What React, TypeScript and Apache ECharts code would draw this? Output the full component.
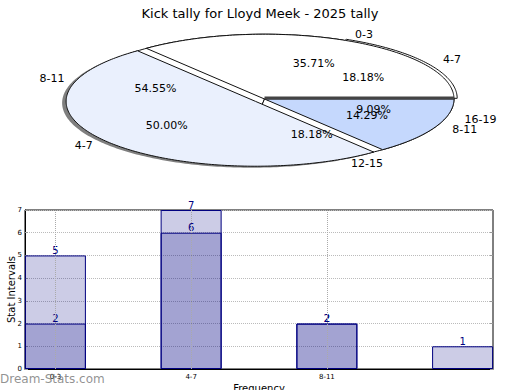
import React, { useEffect, useRef } from "react";
import * as echarts from "echarts";

const titleText = "Kick tally for Lloyd Meek - 2025 tally";

// Outer pie (drawn on top)
const pie1Labels = ["0-3", "4-7", "8-11"];
const pie1Values = [5, 7, 2];
const pie1Colors = ["#ffffff", "#eaf0fd", "#c5d8fd"];
const pie1Explode = [0, 0.06, 0];

// Second pie (underneath)
const pie2Labels = ["4-7", "8-11", "12-15", "16-19"];
const pie2Values = [2, 6, 2, 1];
const pie2Colors = ["#ffffff", "#ffffff", "#ffffff", "#ffffff"];
const pie2Explode = [0.02, 0, 0, 0];

// Bar chart
const barCategories = ["0-3", "4-7", "8-11", ""];
const barSeriesA = [5, 7, 2];
const barSeriesB = [2, 6, 2, 1];

const CX = 264.5;
const CY = 99;
const RX = 189.5;
const RY = 64.8;
const FONT = "DejaVu Sans";

function wedgePoints(cx: number, cy: number, a1: number, a2: number) {
  const pts: number[][] = [[cx, cy]];
  const n = Math.max(2, Math.ceil(((a2 - a1) * 180) / Math.PI));
  for (let i = 0; i <= n; i++) {
    const a = a1 + ((a2 - a1) * i) / n;
    pts.push([cx + RX * Math.cos(a), cy - RY * Math.sin(a)]);
  }
  return pts;
}

function pieRender(
  values: number[],
  labels: string[],
  colors: string[],
  explode: number[],
  mode: "shadow" | "pie" | "labels",
  thickZero: boolean
) {
  const total = values.reduce((s, v) => s + v, 0);
  return (params: any) => {
    const i = params.dataIndex;
    let before = 0;
    for (let k = 0; k < i; k++) before += values[k];
    const a1 = (before / total) * Math.PI * 2;
    const a2 = ((before + values[i]) / total) * Math.PI * 2;
    const mid = (a1 + a2) / 2;
    const dx = explode[i] * RX * Math.cos(mid);
    const dy = -explode[i] * RY * Math.sin(mid);
    const cx = CX + dx;
    const cy = CY + dy;
    if (mode === "shadow") {
      return {
        type: "polygon",
        shape: { points: wedgePoints(cx - 4, cy + 1.5, a1, a2) },
        style: { fill: "rgba(0,0,0,0.5)", stroke: "none" },
        silent: true,
      };
    }
    if (mode === "pie") {
      const children: any[] = [
        {
          type: "polygon",
          shape: { points: wedgePoints(cx, cy, a1, a2) },
          style: { fill: colors[i], stroke: "#111", lineWidth: 1, lineJoin: "round" },
        },
      ];
      if (thickZero && i === values.length - 1) {
        children.push({
          type: "line",
          shape: { x1: CX, y1: CY - 1, x2: CX + RX, y2: CY - 1 },
          style: { stroke: "#444", lineWidth: 3 },
        });
      }
      return { type: "group", children };
    }
    const c = Math.cos(mid);
    const s = Math.sin(mid);
    return {
      type: "group",
      children: [
        {
          type: "text",
          x: cx + 1.1 * RX * c,
          y: cy - 1.1 * RY * s,
          style: {
            text: labels[i],
            fill: "#000",
            fontSize: 11,
            fontFamily: FONT,
            align: c < 0 ? "right" : "left",
            verticalAlign: "middle",
          },
        },
        {
          type: "text",
          x: cx + 0.6 * RX * c,
          y: cy - 0.6 * RY * s,
          style: {
            text: ((values[i] / total) * 100).toFixed(2) + "%",
            fill: "#000",
            fontSize: 11,
            fontFamily: FONT,
            align: "center",
            verticalAlign: "middle",
          },
        },
      ],
    };
  };
}

export default function App() {
  const ref = useRef<HTMLDivElement>(null);
  useEffect(() => {
    if (!ref.current) return;
    const chart = echarts.init(ref.current, undefined, { renderer: "svg" });
    const barStyle = {
      color: "rgba(0,0,128,0.2)",
      borderColor: "#000080",
      borderWidth: 1,
    };
    const barLabel = {
      show: true,
      position: "top",
      distance: 0,
      color: "#000080",
      fontSize: 10,
      fontFamily: FONT,
    };
    const custom = (z: number, values: number[], render: any) => ({
      type: "custom",
      coordinateSystem: "none",
      z,
      data: values,
      renderItem: render,
      silent: true,
    });
    chart.setOption({
      animation: false,
      backgroundColor: "#fff",
      title: {
        text: titleText,
        left: "center",
        top: 2,
        textStyle: { fontSize: 13, fontWeight: "normal", color: "#000", fontFamily: FONT },
      },
      graphic: [
        {
          type: "text",
          left: 0,
          top: 373,
          style: {
            text: "Dream-Stats.com",
            fill: "rgba(110,110,110,0.75)",
            fontSize: 12,
            fontFamily: FONT,
          },
          z: 100,
        },
      ],
      grid: {
        left: 25,
        right: 27,
        top: 210,
        bottom: 21,
        containLabel: false,
        outerBoundsMode: "none",
        show: true,
        borderColor: "#000",
        borderWidth: 1,
      },
      xAxis: {
        type: "value",
        min: -0.224,
        max: 3.224,
        name: "Frequency",
        nameLocation: "middle",
        nameGap: 14,
        nameMoveOverlap: false,
        nameTextStyle: { fontSize: 10, color: "#000", fontFamily: FONT },
        axisLine: { show: true, onZero: false, lineStyle: { color: "#000" } },
        axisTick: { show: false },
        splitLine: { show: false },
        axisLabel: {
          customValues: [0, 1, 2, 3],
          formatter: (v: number) => barCategories[Math.round(v)] ?? "",
          fontSize: 7,
          color: "#000",
          fontFamily: FONT,
          margin: 4,
        },
      },
      yAxis: [
        {
          type: "value",
          min: 0,
          max: 7,
          interval: 1,
          name: "Stat Intervals",
          nameLocation: "middle",
          nameGap: 9,
          nameMoveOverlap: false,
          nameTextStyle: { fontSize: 10, color: "#000", fontFamily: FONT },
          axisLine: { show: true, onZero: false, lineStyle: { color: "#000" } },
          axisTick: { show: true, inside: true, length: 3, lineStyle: { color: "#999" } },
          axisLabel: { fontSize: 7, color: "#000", fontFamily: FONT, margin: 3 },
          splitLine: { show: true, lineStyle: { type: "dotted", color: "#bbb" } },
        },
        {
          type: "value",
          position: "right",
          min: 0,
          max: 7,
          interval: 1,
          axisLine: { show: false, onZero: false },
          axisTick: { show: true, inside: true, length: 3, lineStyle: { color: "#999" } },
          axisLabel: { show: false },
          splitLine: { show: false },
        },
      ],
      series: [
        custom(1, pie1Values, pieRender(pie1Values, pie1Labels, pie1Colors, pie1Explode, "shadow", false)),
        custom(2, pie2Values, pieRender(pie2Values, pie2Labels, pie2Colors, pie2Explode, "pie", false)),
        custom(3, pie1Values, pieRender(pie1Values, pie1Labels, pie1Colors, pie1Explode, "pie", true)),
        custom(5, pie1Values, pieRender(pie1Values, pie1Labels, pie1Colors, pie1Explode, "labels", false)),
        custom(5, pie2Values, pieRender(pie2Values, pie2Labels, pie2Colors, pie2Explode, "labels", false)),
        {
          type: "bar",
          barWidth: 61,
          barGap: "-100%",
          data: barSeriesA.map((v, i) => [i, v]),
          itemStyle: barStyle,
          label: barLabel,
          z: 4,
        },
        {
          type: "bar",
          barWidth: 61,
          barGap: "-100%",
          data: barSeriesB.map((v, i) => [i, v]),
          itemStyle: barStyle,
          label: barLabel,
          z: 4,
          markLine: {
            silent: true,
            symbol: ["none", "none"],
            label: { show: false },
            lineStyle: { type: "dotted", color: "#aaa", width: 1 },
            data: [{ xAxis: 0 }, { xAxis: 1 }, { xAxis: 2 }],
          },
        },
      ],
    });
    return () => chart.dispose();
  }, []);
  return <div ref={ref} style={{ width: 520, height: 390, position: "absolute", left: 0, top: 0 }} />;
}
